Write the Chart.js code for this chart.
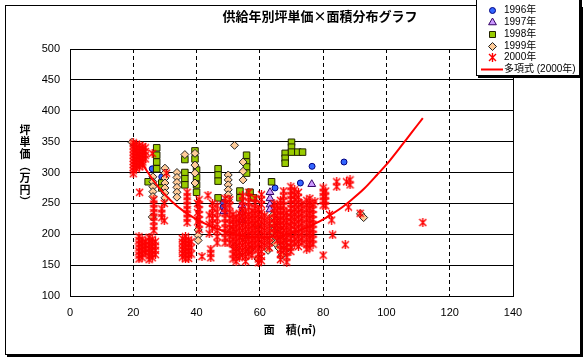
<!DOCTYPE html>
<html><head><meta charset="utf-8">
<script src="https://cdn.jsdelivr.net/npm/chart.js"></script>
<style>
html,body{margin:0;padding:0;background:#fff;}
#wrap{position:relative;width:588px;height:361px;overflow:hidden;background:#fff;}
#c{position:absolute;left:0;top:0;}
#frame{position:absolute;left:5px;top:5px;width:576px;height:350px;box-sizing:border-box;border:1px solid #000;box-shadow:2px 2px 0 #000;pointer-events:none;}
#title{position:absolute;left:120px;width:400px;top:9px;text-align:center;font:bold 13px "Noto Sans CJK JP";line-height:14px;white-space:nowrap;}
#ylab{position:absolute;left:17px;top:124px;writing-mode:vertical-rl;text-orientation:upright;font:bold 11px "Noto Sans CJK JP";letter-spacing:1px;}
#xlab{position:absolute;left:190px;width:200px;top:322px;text-align:center;font:bold 11px "Noto Sans CJK JP";line-height:14px;white-space:nowrap;}
#legend{position:absolute;left:476px;top:-5px;width:104px;height:81px;box-sizing:border-box;border:1px solid #000;box-shadow:2px 2px 0 #000;background:#fff;}
.row{position:absolute;left:0;width:100px;height:12px;font:10px "Liberation Sans","Noto Sans CJK JP";line-height:12px;}
.row canvas{position:absolute;left:0;top:0;}
.row span{position:absolute;left:27px;top:0;white-space:nowrap;}
</style></head>
<body>
<div id="wrap">
<canvas id="c" width="588" height="361" style="width:588px;height:361px"></canvas>
<div id="frame"></div>
<div id="title">供給年別坪単価×面積分布グラフ</div>
<div id="ylab">坪単価︵万円︶</div>
<div id="xlab">面　積(㎡)</div>
<div id="legend"></div>
</div>
<script>
// ---- data ----
const seriesNames = ['1996年','1997年','1998年','1999年','2000年','多項式 (2000年)'];
const xTicks = [0,20,40,60,80,100,120,140];
const yTicks = [100,150,200,250,300,350,400,450,500];

const c1996 = [[26,306],[29,293],[48.4,252],[48.4,244],[64.8,275],[72.8,283],[76.5,310],[86.6,317]];
const t1997 = [[76.4,281],[63.2,268],[63.2,258],[63.2,248],[63.2,240],[54.3,247],[54.3,235],[54.3,223],[48.6,237]];
const s1998 = [
 [27.4,340],[27.4,328],[27.4,317],[27.4,306],
 [24.7,285],[29.0,283],[29.0,275],
 [36.3,321],[36.3,300],[36.3,290],[36.3,280],
 [39.5,335],[39.5,322],
 [40.0,304],[40.0,292],[40.0,280],[40.0,268],
 [46.8,306],[46.8,296],[46.8,286],[46.8,259],
 [53.7,270],[53.7,259],
 [55.8,328],[55.8,317],[55.8,309],[55.8,299],
 [56.9,268],[58.0,259],
 [63.7,285],
 [68.0,331],[68.0,323],[68.0,315],
 [70.0,349],[70.0,341],[70.0,333],
 [72.0,333],[73.5,333]
];
const d1999 = [
 [19.6,349],
 [26.2,293],[26.2,285],[26.2,277],[26.2,269],[26.2,261],[26.0,228],
 [30.0,307],[30.0,299],[30.0,291],[30.0,283],[30.0,275],[30.0,267],[30.0,259],
 [33.8,300],[33.8,292],[33.8,284],[33.8,276],[33.8,268],[33.8,260],
 [36.3,329],
 [39.5,331],[39.5,312],[39.5,299],[39.5,283],
 [40.5,207],[40.5,198],[40.5,190],
 [50.0,296],[50.0,288],[50.0,280],[50.0,272],[50.0,264],[50.0,256],
 [52.0,344],
 [54.7,317],[54.7,302],[54.7,288],
 [51.0,205],[52.0,180],[53.0,168],[55.0,195],[57.0,175],[59.0,215],[59.4,160],
 [62.6,174],[63.5,190],[64.0,215],[64.0,205],[64.0,230],[65.0,222],[65.0,195],[65.0,185],
 [66.0,210],[66.0,200],[66.0,178],[67.0,190],[67.0,166],[69.0,178],
 [91.8,233],[92.8,227]
];
// 2000: stacks of [area, [prices...]]
const r2000 = [
 [20.0,[348,343,338,333,328,323,318,313,308,303,298]],
 [21.0,[346,341,336,331,326,321,316,311,306]],
 [22.0,[344,339,334,329,324,319,314,309,268]],
 [23.0,[342,337,332,327,322,317,312]],
 [23.8,[340,334,328,322]],
 [26.0,[331]],[30.5,[299]],
 [21.8,[196,190,184,178,172,166,160]],
 [22.8,[192,186,180,174,168,162]],
 [23.8,[188,182,176,170]],
 [25.0,[195,189,183,177,171,165,159]],
 [26.0,[192,186,180,174,168,162]],
 [27.0,[188,181,174,167]],
 [26.5,[256,249,242,235,228,221,213,206]],
 [29.0,[241,234,227]],
 [29.8,[250,222]],
 [37.0,[268,261,254,247,240,233,226,219]],
 [35.5,[193,187,181,175,169,163]],
 [36.5,[196,190,184,178,172,166,160]],
 [37.5,[191,185,179,173,167,161]],
 [38.3,[188,178,168]],
 [40.8,[256,248,240,232,224,216,208]],
 [40.3,[250,235,220]],
 [43.6,[263]],
 [44.5,[176,169,162]],
 [41.7,[164]],
 [45.0,[250,242,234,226,218,210]],
 [46.5,[246,236,226,216,206,196,186]],
 [44.0,[231,216,201]],
 [49.0,[258,250,242,234,226,218,210,202,194,186]],
 [50.5,[256,246,236,226,216,206,196,186]],
 [51.5,[232,224,216,208,200,192,184,176,168,160]],
 [52.5,[228,220,212,204,196,188,180,172,164,156]],
 [53.5,[234,226,218,210,202,194,186,178,170,162]],
 [54.5,[262,254,246,238,230,222,214,206,198,190,182,174,166]],
 [55.5,[236,228,220,212,204,196,188,180,172,164,156]],
 [56.5,[268,260,252,244,232,224,216,208,200,192,184,176,168]],
 [57.5,[238,230,222,214,206,198,190,182,174,166]],
 [58.5,[258,250,242,234,226,218,210,202,194,186,178]],
 [59.5,[240,232,224,216,208,200,192,184,176,168,160,154]],
 [60.5,[264,256,248,236,228,220,212,204,196,188,180,172,164,157]],
 [61.5,[230,222,214,206,198,190,182]],
 [63.0,[226,218,210,202,194,186,178]],
 [64.5,[250,242,234,226,218,210,202]],
 [65.5,[246,238,230,222,214,206,198,190]],
 [66.5,[255,247,239,231,223,215,207,199,191,183,175,167,159]],
 [67.5,[270,262,254,246,238,230,222,214,206,198,190,182,174]],
 [68.5,[235,227,219,211,203,195,187,179,171,163,155]],
 [69.8,[277,270,263,256,249,242,235,228,221,214,207,200,193,186,179,172]],
 [71.0,[272,264,256,248,240,232,224,216,208,200,192,184]],
 [72.2,[268,260,252,244,236,228,220,212,204,196,188,180]],
 [73.3,[250,242,234,226,218,210,202,194,186]],
 [74.8,[255,247,239,231,223,215,207,199,191,183,176]],
 [75.8,[258,250,242,234,226,218,210,202,194,186,178]],
 [76.8,[248,240,232,224,216,208,200,192,184]],
 [77.4,[253]],
 [80.0,[275,268,261,254,247,166]],
 [80.8,[270,262,254,246]],
 [82.7,[223]],[83.0,[199]],[82.0,[232]],
 [84.3,[285,277]],[87.4,[285]],[87.0,[183]],[88.5,[280,288]],[88.0,[244]],[91.7,[234]],[111.5,[219]]
];
// polynomial trend line of 2000
const trendX = [20,24,28,32,36,40,44,48,52,56,60,64,68,73,77,81,85,89,93,97,101,105,108,111.5];
const trendY = [342,305,276,254,237,224,214,206,200,196,195,196,199,207,216,227,240,256,274,296,319,345,365,388];

// ---- build ----
const pts = a => a.map(p => ({x:p[0], y:p[1]}));
const redPts = [];
r2000.forEach(s => s[1].forEach(v => redPts.push({x:s[0], y:v})));
const trendPts = trendX.map((x,i) => ({x:x, y:trendY[i]}));

function starCanvas(){
  const c = document.createElement('canvas'); c.width = 9; c.height = 9;
  const g = c.getContext('2d'); g.strokeStyle = '#FF0000'; g.lineWidth = 1.4;
  g.beginPath(); g.moveTo(1,1); g.lineTo(8,8); g.moveTo(8,1); g.lineTo(1,8);
  g.moveTo(4.5,0); g.lineTo(4.5,9); g.stroke(); return c;
}
const star = starCanvas();

const styles = [
  {pointStyle:'circle', radius:3, bg:'#3366FF', bd:'#000080'},
  {pointStyle:'triangle', radius:4.5, bg:'#CC99FF', bd:'#330066'},
  {pointStyle:'rect', radius:4.6, bg:'#99CC00', bd:'#222200'},
  {pointStyle:'rectRot', radius:4, bg:'#FFCC99', bd:'#222222'},
  {pointStyle:star, radius:4, bg:'#FF0000', bd:'#FF0000'}
];
const sets = [c1996, t1997, s1998, d1999];
const datasets = [];
datasets.push({type:'line', label:seriesNames[5], data:trendPts, borderColor:'#FF0000', borderWidth:2, pointRadius:0, showLine:true, fill:false, tension:0.3, order:0});
datasets.push({label:seriesNames[4], data:redPts, pointStyle:star, pointRadius:4, order:1});
for (let i=3;i>=0;i--){
  const st = styles[i];
  datasets.push({label:seriesNames[i], data:pts(sets[i]), pointStyle:st.pointStyle, pointRadius:st.radius,
    backgroundColor:st.bg, borderColor:st.bd, borderWidth:1, order:5-i+1});
}

const tickFont = {family:'"Liberation Sans", Arial, sans-serif', size:11};
const framePlugin = {
  id:'frame',
  beforeDatasetsDraw(chart){
    const a = chart.chartArea, g = chart.ctx;
    g.save(); g.strokeStyle = '#000'; g.lineWidth = 1; g.setLineDash([]);
    g.strokeRect(Math.round(a.left)+0.5, Math.round(a.top)+0.5, Math.round(a.right-a.left), Math.round(a.bottom-a.top));
    g.restore();
  }
};

new Chart(document.getElementById('c'), {
  type:'scatter',
  data:{datasets},
  options:{
    responsive:false, animation:false, devicePixelRatio:1,
    layout:{padding:{left:0, right:75, top:49, bottom:0}},
    plugins:{legend:{display:false}, tooltip:{enabled:false}, title:{display:false}},
    scales:{
      x:{type:'linear', min:0, max:140,
        afterBuildTicks(s){ s.ticks = xTicks.map(v => ({value:v})); },
        afterFit(s){ s.height = 65; },
        ticks:{font:tickFont, color:'#000', padding:10, maxRotation:0, autoSkip:false},
        grid:{color:'#000', lineWidth:1, drawTicks:false},
        border:{display:true, color:'#000', width:1, dash:[4,3]}
      },
      y:{type:'linear', min:100, max:500,
        afterBuildTicks(s){ s.ticks = yTicks.map(v => ({value:v})); },
        afterFit(s){ s.width = 70; },
        ticks:{font:tickFont, color:'#000', padding:10, autoSkip:false},
        grid:{color:'#000', lineWidth:1, drawTicks:false},
        border:{display:true, color:'#000', width:1}
      }
    }
  },
  plugins:[framePlugin]
});

// ---- legend ----
function drawMarker(g, i, x, y){
  g.save();
  if (i === 5){ g.strokeStyle='#FF0000'; g.lineWidth=2; g.beginPath(); g.moveTo(4,y); g.lineTo(26,y); g.stroke(); g.restore(); return; }
  if (i === 4){ g.drawImage(star, x-4.5, y-4.5); g.restore(); return; }
  const st = styles[i]; g.fillStyle = st.bg; g.strokeStyle = st.bd; g.lineWidth = 1;
  g.beginPath();
  if (i===0){ g.arc(x,y,3,0,Math.PI*2); }
  else if (i===1){ g.moveTo(x,y-4.5); g.lineTo(x+3.9,y+2.25); g.lineTo(x-3.9,y+2.25); g.closePath(); }
  else if (i===2){ g.rect(x-3,y-3,6,6); }
  else { g.moveTo(x,y-4); g.lineTo(x+4,y); g.lineTo(x,y+4); g.lineTo(x-4,y); g.closePath(); }
  g.fill(); g.stroke(); g.restore();
}
const leg = document.getElementById('legend');
seriesNames.forEach((name,i) => {
  const row = document.createElement('div'); row.className = 'row';
  row.style.top = (8 + 11.85*i) + 'px';
  const cv = document.createElement('canvas'); cv.width = 27; cv.height = 12;
  row.appendChild(cv);
  const sp = document.createElement('span'); sp.textContent = name; row.appendChild(sp);
  leg.appendChild(row);
  drawMarker(cv.getContext('2d'), i, 15.5, 6.5);
});
</script>
</body></html>
